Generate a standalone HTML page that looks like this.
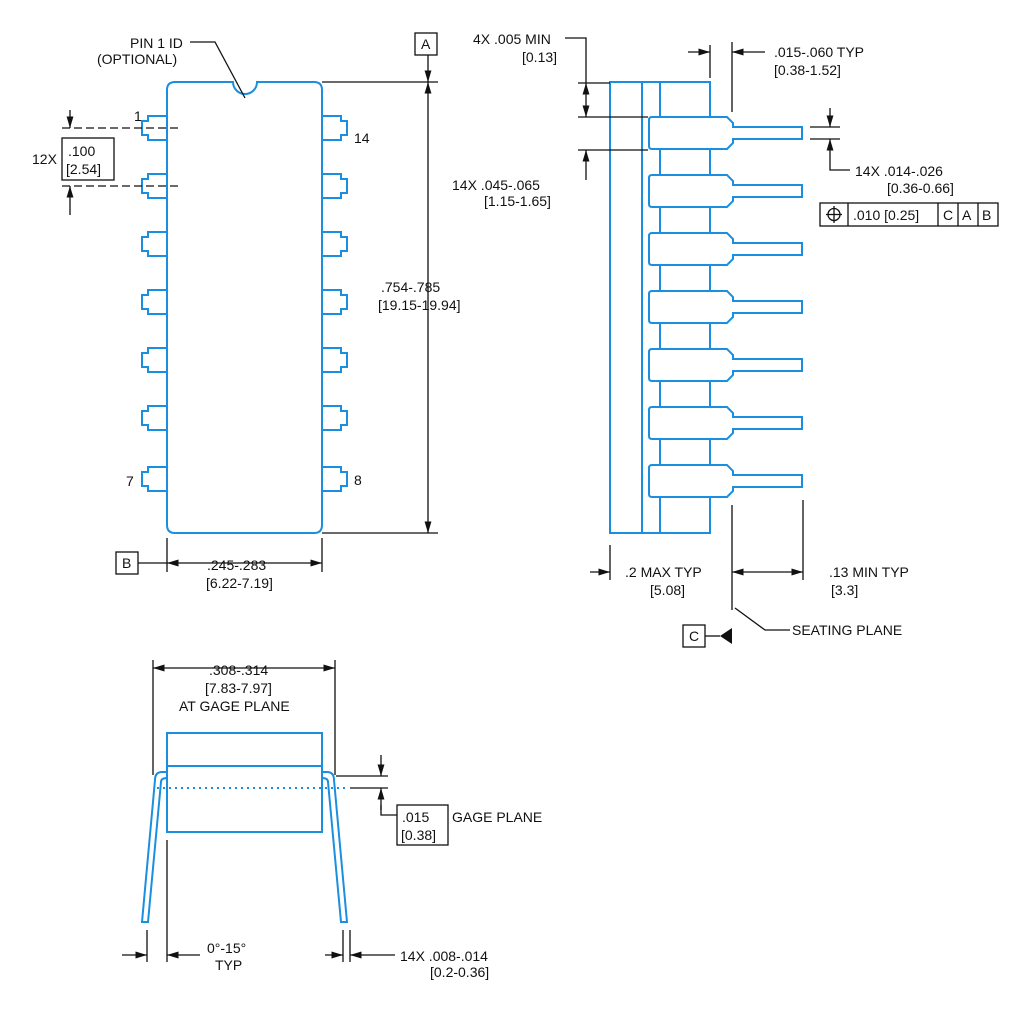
<!DOCTYPE html><html><head><style>body{margin:0;background:#fff}svg{display:block}text{font-family:"Liberation Sans",sans-serif;font-size:14px;fill:#111}</style></head><body>
<svg width="1024" height="1024" viewBox="0 0 1024 1024" xmlns="http://www.w3.org/2000/svg">
<defs><marker id="a" viewBox="0 0 10 10" refX="10" refY="5" markerWidth="9" markerHeight="9" orient="auto-start-reverse"><path d="M0,2L10,5L0,8z" fill="#111"/></marker></defs>
<g fill="none" stroke="#1a8fe0" stroke-width="2">
<path d="M175,82H233A12,12 0 0 0 257,82H314Q322,82 322,90V525Q322,533 314,533H175Q167,533 167,525V90Q167,82 175,82Z"/>
<g id="lp"><path d="M167,116H148V121H142V135H148V140H167"/><path d="M322,116H341V121H347V135H341V140H322"/></g>
<use href="#lp" y="58"/><use href="#lp" y="116"/><use href="#lp" y="174"/><use href="#lp" y="232"/><use href="#lp" y="290"/><use href="#lp" y="351"/>
<rect x="610" y="82" width="100" height="451"/><line x1="642" y1="82" x2="642" y2="533"/><line x1="660" y1="82" x2="660" y2="533"/>
<g id="sl" fill="#fff"><path d="M652,117H727L733,123V127H802V139H733V143L727,149H652Q649,149 649,146V120Q649,117 652,117Z"/></g>
<use href="#sl" y="58"/><use href="#sl" y="116"/><use href="#sl" y="174"/><use href="#sl" y="232"/><use href="#sl" y="290"/><use href="#sl" y="348"/>
<rect x="167" y="733" width="155" height="99"/><line x1="167" y1="766" x2="322" y2="766"/>
<path d="M167,772H162Q155,772 155,780L142,922H148L161,782Q161,778 167,778"/>
<path d="M322,772H327Q334,772 334,780L347,922H341L328,782Q328,778 322,778"/>
</g>
<line x1="157" y1="788" x2="345" y2="788" stroke="#1a8fe0" stroke-width="2" stroke-dasharray="2,4"/>
<g stroke="#111" stroke-width="1.3" fill="none">
<rect x="415" y="33" width="22" height="22"/><line x1="428" y1="55" x2="428" y2="82" marker-end="url(#a)"/><line x1="428" y1="82" x2="428" y2="533" marker-start="url(#a)" marker-end="url(#a)"/>
<line x1="322" y1="82" x2="438" y2="82"/><line x1="322" y1="533" x2="438" y2="533"/>
<rect x="116" y="552" width="22" height="22"/><line x1="167" y1="563" x2="322" y2="563" marker-start="url(#a)" marker-end="url(#a)"/><line x1="138" y1="563" x2="167" y2="563"/>
<line x1="167" y1="538" x2="167" y2="572"/><line x1="322" y1="538" x2="322" y2="572"/>
<rect x="62" y="138" width="52" height="42"/>
<line x1="62" y1="128" x2="180" y2="128" stroke-dasharray="8,4"/><line x1="62" y1="186" x2="180" y2="186" stroke-dasharray="8,4"/>
<line x1="70" y1="110" x2="70" y2="128" marker-end="url(#a)"/><line x1="70" y1="215" x2="70" y2="186" marker-end="url(#a)"/>
<path d="M190,42H215L245,98"/>
<path d="M565,38H586V83"/><line x1="586" y1="83" x2="586" y2="117" marker-start="url(#a)" marker-end="url(#a)"/><line x1="586" y1="180" x2="586" y2="150" marker-end="url(#a)"/>
<line x1="578" y1="83" x2="610" y2="83"/><line x1="578" y1="117" x2="648" y2="117"/><line x1="578" y1="150" x2="648" y2="150"/>
<line x1="710" y1="45" x2="710" y2="78"/><line x1="732" y1="42" x2="732" y2="112"/>
<line x1="688" y1="52" x2="710" y2="52" marker-end="url(#a)"/><line x1="765" y1="52" x2="732" y2="52" marker-end="url(#a)"/>
<line x1="810" y1="127" x2="840" y2="127"/><line x1="810" y1="139" x2="840" y2="139"/>
<line x1="830" y1="108" x2="830" y2="127" marker-end="url(#a)"/><path d="M850,170H830V139" marker-end="url(#a)"/>
<rect x="820" y="203" width="178" height="23"/><line x1="848" y1="203" x2="848" y2="226"/><line x1="938" y1="203" x2="938" y2="226"/><line x1="958" y1="203" x2="958" y2="226"/><line x1="978" y1="203" x2="978" y2="226"/>
<circle cx="834" cy="214.5" r="6"/><line x1="826" y1="214.5" x2="842" y2="214.5"/><line x1="834" y1="206" x2="834" y2="223"/>
<line x1="610" y1="545" x2="610" y2="580"/><line x1="732" y1="505" x2="732" y2="610"/><line x1="803" y1="500" x2="803" y2="580"/>
<line x1="590" y1="572" x2="610" y2="572" marker-end="url(#a)"/><line x1="732" y1="572" x2="803" y2="572" marker-start="url(#a)" marker-end="url(#a)"/>
<rect x="683" y="625" width="22" height="22"/><path d="M705,636H720"/><path d="M735,608L765,630H790"/>
<line x1="153" y1="660" x2="153" y2="775"/><line x1="335" y1="660" x2="335" y2="775"/>
<line x1="153" y1="668" x2="335" y2="668" marker-start="url(#a)" marker-end="url(#a)"/>
<line x1="336" y1="776" x2="388" y2="776"/><line x1="350" y1="788" x2="388" y2="788"/>
<line x1="381" y1="755" x2="381" y2="776" marker-end="url(#a)"/><path d="M381,810V788" marker-end="url(#a)"/><path d="M381,805V815H397"/>
<rect x="397" y="805" width="51" height="40"/>
<line x1="167" y1="840" x2="167" y2="962"/><line x1="147" y1="930" x2="147" y2="962"/>
<line x1="122" y1="955" x2="147" y2="955" marker-end="url(#a)"/><line x1="200" y1="955" x2="167" y2="955" marker-end="url(#a)"/>
<line x1="343" y1="930" x2="343" y2="962"/><line x1="350" y1="930" x2="350" y2="962"/>
<line x1="325" y1="955" x2="343" y2="955" marker-end="url(#a)"/><line x1="395" y1="955" x2="350" y2="955" marker-end="url(#a)"/>
</g>
<path d="M720,636L732,628V644Z" fill="#111"/>
<text x="130" y="48">PIN 1 ID</text><text x="97" y="64">(OPTIONAL)</text>
<text x="421" y="49">A</text><text x="122" y="568">B</text><text x="689" y="641">C</text>
<text x="134" y="121">1</text><text x="354" y="143">14</text><text x="126" y="486">7</text><text x="354" y="485">8</text>
<text x="32" y="164">12X</text><text x="68" y="156">.100</text><text x="66" y="174">[2.54]</text>
<text x="381" y="292">.754-.785</text><text x="378" y="310">[19.15-19.94]</text>
<text x="207" y="570">.245-.283</text><text x="206" y="588">[6.22-7.19]</text>
<text x="473" y="44">4X .005 MIN</text><text x="522" y="62">[0.13]</text>
<text x="452" y="190">14X .045-.065</text><text x="484" y="206">[1.15-1.65]</text>
<text x="774" y="57">.015-.060   TYP</text><text x="774" y="75">[0.38-1.52]</text>
<text x="855" y="176">14X .014-.026</text><text x="887" y="193">[0.36-0.66]</text>
<text x="853" y="220">.010 [0.25]</text><text x="943" y="220">C</text><text x="962" y="220">A</text><text x="982" y="220">B</text>
<text x="625" y="577">.2 MAX TYP</text><text x="650" y="595">[5.08]</text>
<text x="829" y="577">.13 MIN TYP</text><text x="831" y="595">[3.3]</text>
<text x="792" y="635">SEATING PLANE</text>
<text x="209" y="675">.308-.314</text><text x="205" y="693">[7.83-7.97]</text><text x="179" y="711">AT GAGE PLANE</text>
<text x="402" y="822">.015</text><text x="401" y="840">[0.38]</text><text x="452" y="822">GAGE PLANE</text>
<text x="207" y="953">0°-15°</text><text x="215" y="970">TYP</text>
<text x="400" y="961">14X .008-.014</text><text x="430" y="977">[0.2-0.36]</text>
</svg></body></html>
